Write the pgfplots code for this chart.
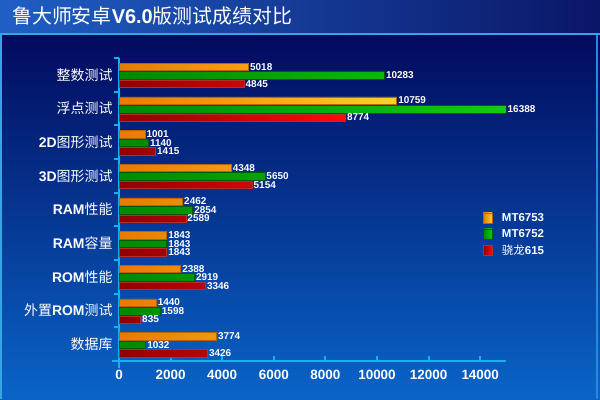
\documentclass[border=0pt]{standalone}
\usepackage{pgfplots}
\pgfplotsset{compat=1.18}
\usepackage{pgfplotstable}
\usepackage{fontspec}
\setmainfont{Liberation Sans}
\newfontfamily\cjk{Noto Sans CJK SC}
\definecolor{tbl}{HTML}{1F5FC4}
\definecolor{tbr}{HTML}{0A1668}
\definecolor{ptop}{HTML}{020A5E}
\definecolor{pbot}{HTML}{0A64C8}
\definecolor{cyanl}{HTML}{35A5E5}
\definecolor{axc}{HTML}{1AB0F0}
\definecolor{orgA}{HTML}{E87A00}
\definecolor{orgB}{HTML}{FFD030}
\definecolor{orgD}{HTML}{C06000}
\definecolor{grnA}{HTML}{008A00}
\definecolor{grnB}{HTML}{10CC10}
\definecolor{grnD}{HTML}{005A00}
\definecolor{redA}{HTML}{900000}
\definecolor{redB}{HTML}{FF0A0A}
\definecolor{redD}{HTML}{B03030}

\pgfplotstableread{
y v1 v2 v3
8 5018 10283 4845
7 10759 16388 8774
6 1001 1140 1415
5 4348 5650 5154
4 2462 2854 2589
3 1843 1843 1843
2 2388 2919 3346
1 1440 1598 835
0 3774 1032 3426
}\data

\pgfplotsset{mylegend/.style={legend image code/.code={\draw[##1, line width=0.6bp] (0bp,-5bp) rectangle (9bp,5bp);}}}

\begin{document}
\begin{tikzpicture}[x=1bp,y=1bp]
\useasboundingbox (0,0) rectangle (600,399);
\shade[left color=tbl, right color=tbr] (0,365) rectangle (600,399);
\shade[top color=ptop, bottom color=pbot] (0,0) rectangle (600,364);
\fill[cyanl] (0,364) rectangle (600,366);
\fill[cyanl] (0,0) rectangle (2,366);
\fill[cyanl!60!pbot] (596,0) rectangle (598,364);
\node[anchor=west, text=white, font=\fontsize{20}{24}\selectfont, inner sep=0] at (12,383) {{\cjk 鲁大师安卓}\textbf{V6.0}{\cjk 版测试成绩对比}};
\begin{axis}[
  at={(119bp,38bp)}, anchor=south west, scale only axis,
  width=387bp, height=303bp,
  xmin=0, xmax=15000, ymin=-0.5, ymax=8.5,
  axis lines*=left,
  axis line style={draw=axc, line width=2bp},
  x axis line style={shorten <=-7bp},
  y axis line style={shorten <=-7bp},
  tick style={draw=axc, line width=2bp},
  major tick length=5bp,
  xtick align=inside, ytick align=outside,
  xtick={0,2000,...,14000},
  scaled x ticks=false,
  /pgf/number format/assume math mode=true,
  /pgf/number format/1000 sep={},
  xticklabel style={font=\bfseries\fontsize{13.5}{16}\selectfont, text=white, yshift=-6bp},
  ytick={-0.5,0.5,...,8.5},
  yticklabels={},
  extra y ticks={0,1,2,3,4,5,6,7,8},
  extra y tick labels={{\cjk 数据库},{\cjk 外置}\textbf{ROM}{\cjk 测试},\textbf{ROM}{\cjk 性能},\textbf{RAM}{\cjk 容量},\textbf{RAM}{\cjk 性能},\textbf{3D}{\cjk 图形测试},\textbf{2D}{\cjk 图形测试},{\cjk 浮点测试},{\cjk 整数测试}},
  extra y tick style={major tick length=0pt, yticklabel style={font=\fontsize{14}{17}\selectfont, text=white, xshift=-3bp}},
  every node near coord/.append style={anchor=west, text=white, font=\bfseries\fontsize{10}{12}\selectfont, inner sep=1.5bp},
  legend style={at={(axis description cs:0.932,0.50)}, anchor=north west, draw=none, fill=none, text=white,
    font=\bfseries\fontsize{11.5}{13}\selectfont, nodes={inner sep=1.5bp}, row sep=3.5bp,
    /tikz/every odd column/.append style={column sep=8bp}},
  legend cell align=left,
]
\addplot[xbar, mylegend, bar width=7.5bp, bar shift=8bp, draw=orgD, left color=orgA, right color=orgB,
  nodes near coords, every node near coord/.append style={yshift=8bp},
  point meta=explicit symbolic, restrict x to domain*=0:15000]
  table[x=v1, y=y, meta=v1] {\data};
\addlegendentry{MT6753}
\addplot[xbar, mylegend, bar width=7.5bp, bar shift=-0.5bp, draw=grnD, left color=grnA, right color=grnB,
  nodes near coords, every node near coord/.append style={yshift=-0.5bp},
  point meta=explicit symbolic, restrict x to domain*=0:15000]
  table[x=v2, y=y, meta=v2] {\data};
\addlegendentry{MT6752}
\addplot[xbar, mylegend, bar width=7.5bp, bar shift=-9bp, draw=redD, left color=redA, right color=redB,
  nodes near coords, every node near coord/.append style={yshift=-9bp},
  point meta=explicit symbolic, restrict x to domain*=0:15000]
  table[x=v3, y=y, meta=v3] {\data};
\addlegendentry{{\mdseries\cjk 骁龙}615}
\end{axis}
\end{tikzpicture}
\end{document}
